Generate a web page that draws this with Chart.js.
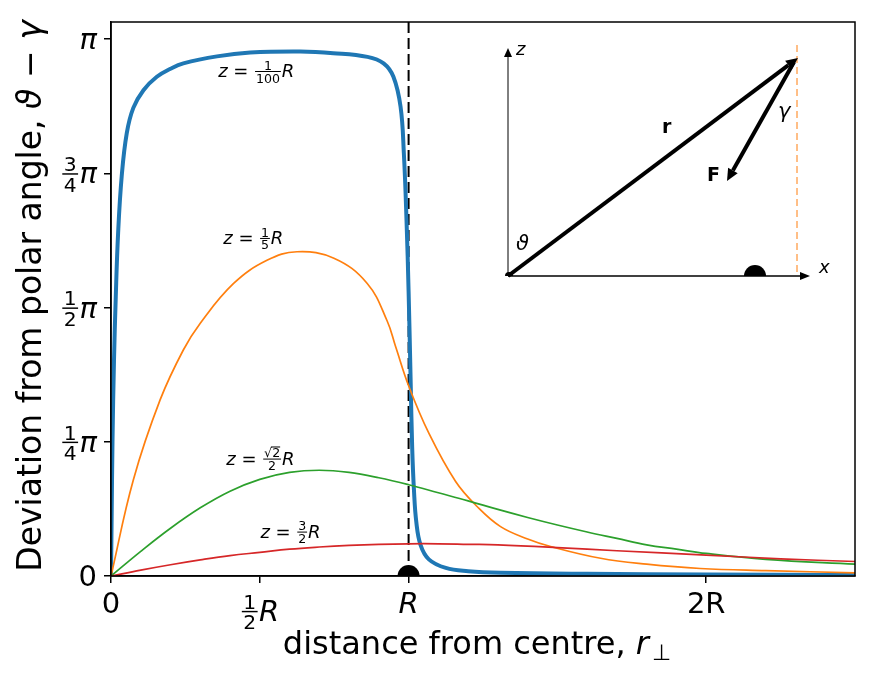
<!DOCTYPE html>
<html>
<head>
<meta charset="utf-8">
<script src="https://cdn.jsdelivr.net/npm/chart.js@4.4.1/dist/chart.umd.min.js"></script>
<style>
  html, body { margin: 0; padding: 0; background: #fff; }
  #wrap { width: 878px; height: 678px; }
</style>
</head>
<body>
<div id="wrap"><canvas id="angleChart" width="878" height="678"></canvas></div>
<script>
// distance from centre in units of R, deviation in units of pi
const xTickValues = [0, 0.5, 1, 2];
const xTickLabels = [['0'], ['1/2', 'R'], ['R'], ['2R']];
const yTickValues = [0, 0.25, 0.5, 0.75, 1];
const yTickLabels = [['0'], ['1/4', 'π'], ['1/2', 'π'], ['3/4', 'π'], ['π']];

// z = R/100
const blueX = [0, 0.002, 0.005, 0.010, 0.016, 0.024, 0.036, 0.053, 0.075, 0.109, 0.154, 0.2, 0.243, 0.356, 0.468, 0.636, 0.747, 0.862, 0.916, 0.949,
  0.973, 0.984, 0.993, 1.0, 1.007, 1.012, 1.018, 1.026, 1.040, 1.068, 1.125, 1.2, 1.31, 1.6, 2.0, 2.5];
const blueY = [0, 0.10, 0.25, 0.40, 0.52, 0.64, 0.745, 0.825, 0.872, 0.905, 0.930, 0.945, 0.955, 0.968, 0.975, 0.977, 0.974, 0.967, 0.955, 0.930,
  0.874, 0.788, 0.663, 0.53, 0.36, 0.24, 0.160, 0.100, 0.058, 0.031, 0.015, 0.009, 0.006, 0.004, 0.003, 0.002];

// z = R/5
const orangeX = [0, 0.075, 0.165, 0.243, 0.30, 0.412, 0.524, 0.625, 0.749, 0.861, 0.928, 0.956, 1.001, 1.068, 1.158, 1.231, 1.309, 1.40, 1.477,
  1.645, 1.80, 1.98, 2.2, 2.5];
const orangeY = [0, 0.179, 0.328, 0.421, 0.471, 0.545, 0.588, 0.604, 0.592, 0.545, 0.475, 0.428, 0.353, 0.266, 0.176, 0.129, 0.092, 0.069, 0.055,
  0.033, 0.022, 0.014, 0.010, 0.006];

// z = sqrt(2)/2 R
const greenX = [0, 0.1, 0.2, 0.3, 0.4, 0.5, 0.6, 0.7, 0.8, 0.9, 1.0, 1.1, 1.2, 1.3, 1.4, 1.5, 1.6, 1.7, 1.8, 1.9, 2.0, 2.2, 2.5];
const greenY = [0, 0.046, 0.089, 0.127, 0.158, 0.180, 0.193, 0.197, 0.193, 0.183, 0.170, 0.155, 0.140, 0.124, 0.109, 0.095, 0.082, 0.070, 0.058, 0.050, 0.042, 0.031, 0.022];

// z = 3/2 R
const redX = [0, 0.1, 0.2, 0.3, 0.4, 0.5, 0.6, 0.7, 0.8, 0.9, 1.0, 1.1, 1.2, 1.3, 1.5, 1.7, 2.0, 2.25, 2.5];
const redY = [0, 0.011, 0.021, 0.030, 0.038, 0.044, 0.050, 0.054, 0.057, 0.059, 0.060, 0.060, 0.059, 0.058, 0.053, 0.047, 0.039, 0.032, 0.027];

const seriesLabels = [['z', ' = ', '1/100', 'R'], ['z', ' = ', '1/5', 'R'], ['z', ' = ', '√2/2', 'R'], ['z', ' = ', '3/2', 'R']];
const labelAnchors = [[0.488, 0.929], [0.478, 0.618], [0.502, 0.207], [0.603, 0.071]];

const italics = ['z', 'R', 'π', 'r', 'x', 'ϑ', 'γ'];
const FAM = '"DejaVu Sans"';

function font(size, it, bold) {
  return (it ? 'italic ' : '') + (bold ? 'bold ' : '') + size + 'px ' + FAM;
}

function pieceWidth(ctx, tok, size) {
  if (tok.includes('/')) {
    const [n, d] = tok.split('/');
    ctx.font = font(size * 0.7);
    return Math.max(ctx.measureText(n).width, ctx.measureText(d).width) + size * 0.2;
  }
  ctx.font = font(size, italics.includes(tok));
  return ctx.measureText(tok).width;
}

// draws a little mathtext-like run of tokens, fractions stacked
function drawMath(ctx, toks, x, y, size, align) {
  const ws = toks.map(t => pieceWidth(ctx, t, size));
  const total = ws.reduce((a, b) => a + b, 0);
  let cx = align === 'center' ? x - total / 2 : align === 'right' ? x - total : x;
  ctx.save();
  ctx.fillStyle = '#000';
  ctx.textBaseline = 'alphabetic';
  toks.forEach((tok, i) => {
    const w = ws[i];
    if (tok.includes('/')) {
      const [n, d] = tok.split('/');
      const fs = size * 0.7;
      const axisY = y - size * 0.32;
      const mid = cx + w / 2;
      ctx.font = font(fs);
      ctx.textAlign = 'center';
      ctx.fillText(n, mid, axisY - size * 0.1);
      ctx.fillText(d, mid, axisY + size * 0.1 + fs * 0.73);
      ctx.fillRect(cx + size * 0.05, axisY - size * 0.03, w - size * 0.1, Math.max(1, size * 0.05));
      if (n.startsWith('√')) {
        const nw = ctx.measureText(n).width;
        const sw = ctx.measureText('√').width;
        const x0 = mid - nw / 2 + sw * 0.85;
        ctx.fillRect(x0, axisY - size * 0.1 - fs * 0.86, mid + nw / 2 - x0, 1);
      }
    } else {
      ctx.font = font(size, italics.includes(tok));
      ctx.textAlign = 'left';
      ctx.fillText(tok, cx, y);
    }
    cx += w;
  });
  ctx.restore();
}

function arrow(ctx, x0, y0, x1, y1, lw, hl, hw) {
  const a = Math.atan2(y1 - y0, x1 - x0);
  const bx = x1 - hl * Math.cos(a), by = y1 - hl * Math.sin(a);
  ctx.lineWidth = lw;
  ctx.beginPath();
  ctx.moveTo(x0, y0);
  ctx.lineTo(bx, by);
  ctx.stroke();
  ctx.beginPath();
  ctx.moveTo(x1, y1);
  ctx.lineTo(bx + hw / 2 * Math.sin(a), by - hw / 2 * Math.cos(a));
  ctx.lineTo(bx - hw / 2 * Math.sin(a), by + hw / 2 * Math.cos(a));
  ctx.closePath();
  ctx.fill();
}

const overlay = {
  id: 'overlay',
  beforeDatasetsDraw(chart) {
    const { ctx, chartArea: ca, scales: { x } } = chart;
    const px = x.getPixelForValue(1);
    ctx.save();
    ctx.strokeStyle = '#000';
    ctx.lineWidth = 2;
    ctx.setLineDash([11, 5]);
    ctx.beginPath();
    ctx.moveTo(px, ca.top);
    ctx.lineTo(px, ca.bottom);
    ctx.stroke();
    ctx.restore();
  },
  afterDraw(chart) {
    const { ctx, chartArea: ca, scales: { x, y } } = chart;
    ctx.save();

    // ring cross-section at r = R
    ctx.save();
    ctx.beginPath();
    ctx.rect(ca.left, ca.top, ca.right - ca.left, ca.bottom - ca.top);
    ctx.clip();
    ctx.fillStyle = '#000';
    ctx.beginPath();
    ctx.arc(x.getPixelForValue(1), y.getPixelForValue(0), 11, 0, Math.PI * 2);
    ctx.fill();
    ctx.restore();

    // frame
    ctx.strokeStyle = '#000';
    ctx.lineWidth = 1.5;
    ctx.strokeRect(ca.left, ca.top, ca.right - ca.left, ca.bottom - ca.top);

    // tick labels
    xTickValues.forEach((v, i) => {
      const toks = xTickLabels[i];
      const base = toks.some(t => t.includes('/')) ? ca.bottom + 45 : ca.bottom + 37;
      drawMath(ctx, toks, x.getPixelForValue(v), base, 29, 'center');
    });
    yTickValues.forEach((v, i) => {
      drawMath(ctx, yTickLabels[i], ca.left - 14, y.getPixelForValue(v) + 10, 29, 'right');
    });

    // axis titles
    ctx.fillStyle = '#000';
    ctx.textBaseline = 'alphabetic';
    ctx.textAlign = 'left';
    const xt = 'distance from centre, ';
    ctx.font = font(32);
    const w1 = ctx.measureText(xt).width;
    ctx.font = font(32, true);
    const w2 = ctx.measureText('r').width;
    ctx.font = font(22);
    const w3 = ctx.measureText('⊥').width;
    let sx = (ca.left + ca.right) / 2 - (w1 + w2 + w3 + 3) / 2 - 6;
    ctx.font = font(32);
    ctx.fillText(xt, sx, 654);
    ctx.font = font(32, true);
    ctx.fillText('r', sx + w1, 654);
    ctx.font = font(22);
    ctx.fillText('⊥', sx + w1 + w2 + 3, 660);

    ctx.save();
    ctx.translate(41, (ca.top + ca.bottom) / 2 - 3);
    ctx.rotate(-Math.PI / 2);
    const yt = [['Deviation from polar angle, ', false], ['ϑ', true], [' − ', false], ['γ', true]];
    const yw = yt.map(([t, it]) => { ctx.font = font(33, it); return ctx.measureText(t).width; });
    let ty = -yw.reduce((a, b) => a + b, 0) / 2;
    yt.forEach(([t, it], i) => {
      ctx.font = font(33, it);
      ctx.fillText(t, ty, 0);
      ty += yw[i];
    });
    ctx.restore();

    // curve labels
    seriesLabels.forEach((toks, i) => {
      const [ax, ay] = labelAnchors[i];
      drawMath(ctx, toks, x.getPixelForValue(ax), y.getPixelForValue(ay), 18, 'center');
    });

    // inset sketch of the geometry
    const ox = ca.left + 397, oy = ca.top + 254;
    ctx.fillStyle = '#000';
    ctx.strokeStyle = '#000';
    ctx.lineCap = 'butt';
    arrow(ctx, ox, oy, ox, oy - 228, 1, 9, 8);
    arrow(ctx, ox, oy, ox + 302, oy, 1.5, 10, 8);
    ctx.save();
    ctx.strokeStyle = '#ff7f0e';
    ctx.lineWidth = 1;
    ctx.setLineDash([7, 4]);
    ctx.beginPath();
    ctx.moveTo(ox + 289, oy - 231);
    ctx.lineTo(ox + 289, oy);
    ctx.stroke();
    ctx.restore();
    ctx.beginPath();
    ctx.arc(ox + 247, oy, 11, Math.PI, 0);
    ctx.fill();
    ctx.beginPath();
    ctx.arc(ox + 1, oy, 4, Math.PI, 0);
    ctx.fill();
    arrow(ctx, ox, oy, ox + 290, oy - 218, 4, 12, 11);
    arrow(ctx, ox + 286, oy - 214, ox + 219, oy - 95, 4, 12, 11);

    ctx.textAlign = 'left';
    ctx.font = font(18, true);
    ctx.fillText('z', ox + 8, oy - 221);
    ctx.fillText('x', ox + 311, oy - 3);
    ctx.font = font(21, true);
    ctx.fillText('γ', ox + 270, oy - 158);
    ctx.fillText('ϑ', ox + 8, oy - 26);
    ctx.font = font(19, false, true);
    ctx.fillText('r', ox + 154, oy - 143);
    ctx.fillText('F', ox + 199, oy - 95);

    ctx.restore();
  }
};

function pts(xs, ys) {
  return xs.map((v, i) => ({ x: v, y: ys[i] }));
}

const lineStyle = { pointRadius: 0, fill: false, tension: 0.4 };

new Chart(document.getElementById('angleChart'), {
  type: 'line',
  data: {
    datasets: [
      { ...lineStyle, data: pts(blueX, blueY), borderColor: '#1f77b4', borderWidth: 4, order: 4 },
      { ...lineStyle, data: pts(orangeX, orangeY), borderColor: '#ff7f0e', borderWidth: 1.7, order: 3 },
      { ...lineStyle, data: pts(greenX, greenY), borderColor: '#2ca02c', borderWidth: 1.7, order: 2 },
      { ...lineStyle, data: pts(redX, redY), borderColor: '#d62728', borderWidth: 1.7, order: 1 }
    ]
  },
  options: {
    responsive: false,
    animation: false,
    devicePixelRatio: 1,
    layout: { padding: { left: 0, right: 23, top: 22, bottom: 0 } },
    plugins: { legend: { display: false }, tooltip: { enabled: false } },
    scales: {
      x: {
        type: 'linear',
        min: 0,
        max: 2.5,
        afterBuildTicks: s => { s.ticks = xTickValues.map(v => ({ value: v })); },
        afterFit: s => { s.height = 102; },
        grid: { drawOnChartArea: false, drawTicks: true, tickLength: 7, color: '#000', lineWidth: 1.5 },
        border: { display: true, color: '#000', width: 1.5 },
        ticks: { display: false }
      },
      y: {
        type: 'linear',
        min: 0,
        max: 1.032,
        afterBuildTicks: s => { s.ticks = yTickValues.map(v => ({ value: v })); },
        afterFit: s => { s.width = 111; },
        grid: { drawOnChartArea: false, drawTicks: true, tickLength: 7, color: '#000', lineWidth: 1.5 },
        border: { display: true, color: '#000', width: 1.5 },
        ticks: { display: false }
      }
    }
  },
  plugins: [overlay]
});
</script>
</body>
</html>
